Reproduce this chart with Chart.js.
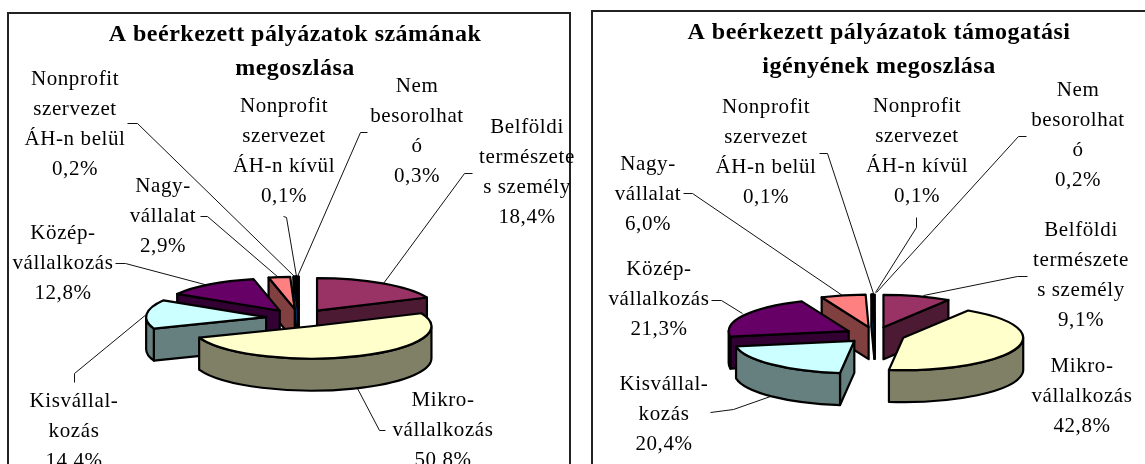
<!DOCTYPE html>
<html><head><meta charset="utf-8">
<style>
html,body{margin:0;padding:0;background:#fff;width:1145px;height:464px;overflow:hidden}
canvas{position:absolute;left:0;top:0}
</style>
<script src="https://cdn.jsdelivr.net/npm/chart.js@4/dist/chart.umd.js"></script>
</head><body>
<canvas id="a" width="1145" height="464"></canvas>
<canvas id="b" width="1145" height="464"></canvas>
<script>
const categories = [
  ['Belföldi','természete','s személy'],
  ['Mikro-','vállalkozás'],
  ['Kisvállal-','kozás'],
  ['Közép-','vállalkozás'],
  ['Nagy-','vállalat'],
  ['Nonprofit','szervezet','ÁH-n belül'],
  ['Nonprofit','szervezet','ÁH-n kívül'],
  ['Nem','besorolhat','ó']
];
const countValues = [18.4,50.8,14.4,12.8,2.9,0.2,0.1,0.3];
const grantValues = [9.1,42.8,20.4,21.3,6.0,0.1,0.1,0.2];
const topColors  = ['#993366','#FFFFCC','#CCFFFF','#660066','#FF8080','#0066CC','#CCCCFF','#000080'];
const wallColors = ['#4D1A33','#808066','#668080','#330033','#804040','#003366','#666680','#000040'];
const countTitle = ['A beérkezett pályázatok számának','megoszlása'];
const grantTitle = ['A beérkezett pályázatok támogatási','igényének megoszlása'];

const BODY_FONT = '21px "Liberation Serif"';
const LINE_H = 30.3;

const pie3d = {
  id:'pie3d',
  beforeDraw(chart,_,o){
    const c=chart.ctx;
    c.letterSpacing='0.5px';
    c.save();
    c.strokeStyle='#222';c.lineWidth=2;
    c.strokeRect(o.box[0],o.box[1],o.box[2],o.box[3]);
    c.restore();
  },
  beforeDatasetsDraw(chart,_,o){
    const c=chart.ctx;
    c.save();
    // leader lines
    c.letterSpacing='0px';
    c.strokeStyle='#111';c.lineWidth=1;
    o.leaders.forEach(p=>{
      c.beginPath();
      p.forEach((q,i)=>i?c.lineTo(q[0]+.5,q[1]+.5):c.moveTo(q[0]+.5,q[1]+.5));
      c.stroke();
    });
    // data labels
    c.letterSpacing='0.6px';
    c.font=BODY_FONT;c.fillStyle='#000';c.textAlign='center';c.textBaseline='middle';
    const vals=chart.data.datasets[0].data;
    o.labels.forEach((l,i)=>{
      const lines=[...chart.data.labels[i],vals[i].toFixed(1).replace('.',',')+'%'];
      lines.forEach((t,j)=>c.fillText(t,l[0],l[1]+j*LINE_H));
    });
    // slices
    const k=o.tilt,D=o.depth,[cx,cy]=o.center;
    const meta=chart.getDatasetMeta(0);
    const items=meta.data.map(el=>{
      const s=el.startAngle,e=el.endAngle,mid=(s+e)/2,off=el.options.offset/4;
      return {s,e,r:el.outerRadius,x:cx+off*Math.cos(mid),y:cy+off*k*Math.sin(mid),
              top:el.options.backgroundColor,wall:el.options.borderColor};
    }).sort((a,b)=>a.y-b.y);
    c.lineWidth=2.2;c.lineJoin='round';c.strokeStyle='#000';
    const TAU=Math.PI*2;
    items.forEach(it=>{
      const {s,e,r,x,y}=it,ry=r*k;
      const quad=a=>{
        const px=x+r*Math.cos(a),py=y+ry*Math.sin(a);
        c.beginPath();c.moveTo(x,y);c.lineTo(px,py);c.lineTo(px,py+D);c.lineTo(x,y+D);c.closePath();
        c.fillStyle=it.wall;c.fill();c.stroke();
      };
      if(-Math.cos(s)>0) quad(s);
      if(Math.cos(e)>0) quad(e);
      const s0=((s%TAU)+TAU)%TAU,e0=s0+(e-s);
      [0,1].forEach(n=>{
        const lo=Math.max(s0,n*TAU),hi=Math.min(e0,Math.PI+n*TAU);
        if(hi>lo){
          c.beginPath();
          c.ellipse(x,y,r,ry,0,lo,hi);
          c.ellipse(x,y+D,r,ry,0,hi,lo,true);
          c.closePath();c.fillStyle=it.wall;c.fill();c.stroke();
        }
      });
      c.beginPath();c.moveTo(x,y);c.ellipse(x,y,r,ry,0,s,e);c.closePath();
      c.fillStyle=it.top;c.fill();c.stroke();
    });
    c.restore();
    return false;
  }
};

function make(id,values,title,pad,offset,plug){
  return new Chart(document.getElementById(id),{
    type:'pie',
    plugins:[pie3d],
    data:{labels:categories,datasets:[{data:values,backgroundColor:topColors,borderColor:wallColors,borderWidth:0,offset:offset}]},
    options:{
      responsive:false,animation:false,radius:120,rotation:0,
      layout:{padding:pad},
      plugins:{
        legend:{display:false},tooltip:{enabled:false},
        title:{display:true,text:title,fullSize:false,color:'#000',padding:{top:0,bottom:0},
               font:{family:'"Liberation Serif"',size:24,weight:'bold',lineHeight:1.45}},
        pie3d:plug
      }
    }
  });
}

make('a',countValues,countTitle,{top:17,left:0,right:555,bottom:0},132,{
  box:[8,13,562,470],center:[299,318],tilt:.27,depth:32,
  labels:[[527,127],[443,400],[74,401],[63,233],[163,186],[75,79],[284,106],[417,86]],
  leaders:[
    [[472,173],[464,173],[383,283]],
    [[357,388],[379,430],[385,430]],
    [[147,313],[74,373],[74,382]],
    [[115,263],[125,263],[208,285]],
    [[200,216],[207,216],[278,277]],
    [[127,123],[137,123],[295,277]],
    [[283,216],[286,217],[296,276]],
    [[367,132],[360,132],[297,276]]
  ]
});
make('b',grantValues,grantTitle,{top:15,left:613,right:0,bottom:0},120,{
  box:[592,11,560,470],center:[875,335],tilt:.27,depth:32,
  labels:[[1081,230],[1082,366],[664,384],[659,269],[648,164],[766,107],[917,106],[1078,90]],
  leaders:[
    [[1027,276],[1017,276],[923,295]],
    [[770,396],[733,409],[710,412]],
    [[742,313],[721,300],[711,300]],
    [[683,193],[692,193],[842,295]],
    [[819,153],[827,153],[873,293]],
    [[916,217],[916,227],[875,292]],
    [[1026,136],[1018,136],[876,292]]
  ]
});
</script>
</body></html>
